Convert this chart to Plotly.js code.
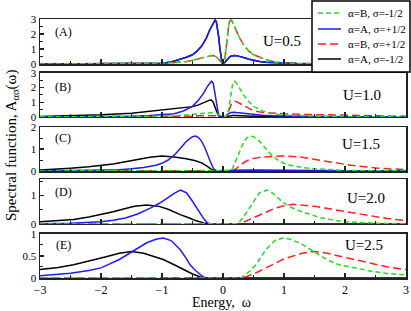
<!DOCTYPE html>
<html><head><meta charset="utf-8">
<script src="https://cdn.plot.ly/plotly-3.0.1.min.js"></script>
<style>html,body{margin:0;padding:0;background:#fff}#chart{width:411px;height:311px}</style>
</head><body><div id="chart"></div>
<script>
// ---------- legend names ----------
const seriesNames = ["α=A, σ=-1/2", "α=B, σ=+1/2", "α=A, σ=+1/2", "α=B, σ=-1/2"];
const legendOrder = ["green", "blue", "red", "black"];
const legendTexts = ["α=B, σ=-1/2", "α=A, σ=+1/2", "α=B, σ=+1/2", "α=A, σ=-1/2"];
const uLabels = ["U=0.5", "U=1.0", "U=1.5", "U=2.0", "U=2.5"];
const panelLabels = ["(A)", "(B)", "(C)", "(D)", "(E)"];

// ---------- Panel A (U=0.5) ----------
const A_x = [-3,-2.5,-2,-1.5,-1.2,-1,-0.85,-0.7,-0.6,-0.5,-0.43,-0.35,-0.27,-0.22,-0.18,-0.15,-0.13,-0.11,-0.09,-0.07,-0.05,-0.03,-0.015,0,0.015,0.03,0.05,0.07,0.09,0.11,0.13,0.15,0.18,0.22,0.27,0.35,0.43,0.5,0.6,0.7,0.85,1,1.2,1.5,2,2.5,3];
const A_blue  = [0.004,0.006,0.01,0.02,0.035,0.06,0.14,0.3,0.45,0.62,0.84,1.2,1.75,2.25,2.6,2.85,2.93,2.85,2.45,1.8,1.0,0.35,0.08,0,0.03,0.1,0.2,0.3,0.4,0.48,0.52,0.55,0.57,0.56,0.52,0.42,0.32,0.25,0.17,0.12,0.08,0.055,0.035,0.02,0.01,0.006,0.004];
const A_black = [0.004,0.006,0.01,0.02,0.035,0.06,0.14,0.3,0.45,0.62,0.84,1.2,1.75,2.25,2.6,2.85,2.93,2.85,2.45,1.8,1.0,0.35,0.08,0,0.03,0.1,0.2,0.3,0.4,0.48,0.52,0.55,0.57,0.56,0.52,0.42,0.32,0.25,0.17,0.12,0.08,0.055,0.035,0.02,0.01,0.006,0.004];
const A_green = [0.004,0.006,0.01,0.02,0.035,0.055,0.08,0.12,0.17,0.25,0.32,0.42,0.52,0.56,0.57,0.55,0.52,0.48,0.4,0.3,0.2,0.1,0.03,0,0.08,0.35,1.0,1.8,2.45,2.85,2.93,2.85,2.6,2.25,1.75,1.2,0.84,0.62,0.45,0.3,0.14,0.06,0.035,0.02,0.01,0.006,0.004];
const A_red   = [0.004,0.006,0.01,0.02,0.035,0.055,0.08,0.12,0.17,0.25,0.32,0.42,0.52,0.56,0.57,0.55,0.52,0.48,0.4,0.3,0.2,0.1,0.03,0,0.08,0.35,1.0,1.8,2.45,2.85,2.93,2.85,2.6,2.25,1.75,1.2,0.84,0.62,0.45,0.3,0.14,0.06,0.035,0.02,0.01,0.006,0.004];

// ---------- Panel B (U=1.0) ----------
const B_x = [-3,-2.5,-2,-1.5,-1.2,-1,-0.8,-0.65,-0.5,-0.4,-0.32,-0.26,-0.22,-0.19,-0.16,-0.13,-0.1,-0.08,-0.06,-0.04,-0.02,0,0.02,0.04,0.06,0.08,0.1,0.13,0.16,0.19,0.22,0.26,0.32,0.4,0.5,0.65,0.8,1,1.2,1.5,2,2.5,3];
const B_blue  = [0.005,0.01,0.02,0.05,0.09,0.13,0.22,0.4,0.72,1.15,1.6,2.05,2.3,2.43,2.3,1.6,0.7,0.3,0.08,0.02,0.005,0,0.005,0.03,0.1,0.18,0.24,0.3,0.32,0.32,0.3,0.28,0.25,0.21,0.16,0.11,0.07,0.05,0.03,0.02,0.01,0.005,0.003];
const B_green = [0.003,0.005,0.01,0.02,0.03,0.05,0.07,0.11,0.16,0.21,0.25,0.28,0.3,0.32,0.32,0.3,0.24,0.18,0.1,0.03,0.005,0,0.005,0.02,0.08,0.3,0.7,1.6,2.3,2.43,2.3,2.05,1.6,1.15,0.72,0.4,0.22,0.13,0.09,0.05,0.02,0.01,0.005];
const B_black = [0.03,0.07,0.14,0.25,0.38,0.48,0.55,0.6,0.7,0.82,0.97,1.08,1.14,1.15,1.0,0.65,0.3,0.13,0.04,0.01,0.002,0,0.002,0.02,0.05,0.07,0.09,0.1,0.1,0.1,0.1,0.09,0.08,0.07,0.05,0.04,0.03,0.02,0.015,0.01,0.005,0.003,0.002];
const B_red   = [0.002,0.003,0.005,0.01,0.015,0.02,0.03,0.04,0.05,0.07,0.08,0.09,0.1,0.1,0.1,0.1,0.09,0.07,0.05,0.02,0.002,0,0.002,0.02,0.08,0.2,0.45,0.8,1.0,1.07,1.04,0.95,0.8,0.6,0.42,0.3,0.25,0.21,0.18,0.15,0.11,0.07,0.04];

// ---------- Panel C (U=1.5) ----------
const C_blue_x  = [-3,-2.5,-2,-1.7,-1.5,-1.3,-1.1,-1,-0.9,-0.8,-0.7,-0.6,-0.5,-0.45,-0.4,-0.35,-0.3,-0.27,-0.2,-0.15,-0.1,0,0.1,0.2,0.3,0.5,0.8,1.2,2,3];
const C_blue_y  = [0.005,0.015,0.03,0.06,0.1,0.16,0.26,0.35,0.5,0.72,1.02,1.35,1.56,1.59,1.52,1.35,1.08,0.86,0.38,0.08,0.01,0.01,0.02,0.04,0.05,0.05,0.04,0.02,0.01,0.005];
const C_green_x = [-3,-2,-1.2,-0.8,-0.5,-0.3,-0.2,-0.1,0,0.1,0.15,0.2,0.27,0.3,0.35,0.4,0.45,0.5,0.6,0.7,0.8,0.9,1,1.1,1.3,1.5,1.7,2,2.5,3];
const C_green_y = [0.005,0.01,0.02,0.04,0.05,0.05,0.04,0.02,0.01,0.01,0.08,0.38,0.86,1.08,1.35,1.52,1.59,1.56,1.35,1.02,0.72,0.5,0.35,0.26,0.16,0.1,0.06,0.03,0.015,0.005];
const C_black_x = [-3,-2.8,-2.5,-2.2,-2,-1.8,-1.6,-1.4,-1.2,-1,-0.8,-0.6,-0.45,-0.35,-0.3,-0.25,-0.2,-0.15,-0.1,0,0.2,0.5,1,2,3];
const C_black_y = [0.05,0.07,0.13,0.19,0.24,0.32,0.42,0.54,0.63,0.68,0.64,0.56,0.47,0.37,0.3,0.2,0.1,0.03,0.005,0,0.02,0.02,0.01,0.005,0.002];
const C_red_x   = [-3,-2,-1,-0.5,-0.2,0,0.1,0.15,0.2,0.28,0.35,0.44,0.6,0.8,1,1.26,1.5,1.8,2.1,2.5,3];
const C_red_y   = [0.002,0.005,0.01,0.02,0.02,0,0,0.02,0.08,0.26,0.4,0.53,0.62,0.66,0.68,0.64,0.53,0.38,0.26,0.14,0.06];

// ---------- Panel D (U=2.0) ----------
const D_blue_x  = [-3,-2.5,-2,-1.8,-1.6,-1.4,-1.2,-1.05,-0.92,-0.8,-0.7,-0.6,-0.5,-0.4,-0.32,-0.26,-0.22,-0.15,0,0.5,1,3];
const D_blue_y  = [0.01,0.03,0.08,0.13,0.21,0.35,0.55,0.72,0.9,1.08,1.19,1.1,0.8,0.45,0.2,0.05,0.01,0,0,0.005,0.005,0];
const D_green_x = [-3,-1,-0.5,0,0.15,0.22,0.26,0.32,0.4,0.5,0.6,0.72,0.82,0.92,1.05,1.2,1.37,1.6,1.8,2,2.5,3];
const D_green_y = [0,0.005,0.005,0,0,0.01,0.05,0.2,0.45,0.8,1.1,1.19,1.08,0.88,0.66,0.5,0.37,0.22,0.14,0.08,0.03,0.01];
const D_black_x = [-3,-2.7,-2.45,-2.2,-2,-1.8,-1.63,-1.45,-1.25,-1.05,-0.9,-0.81,-0.7,-0.54,-0.45,-0.32,-0.25,-0.15,0,3];
const D_black_y = [0.08,0.12,0.16,0.25,0.33,0.43,0.53,0.62,0.67,0.62,0.52,0.43,0.33,0.2,0.12,0.04,0.005,0,0,0];
const D_red_x   = [-3,0,0.15,0.25,0.32,0.39,0.5,0.6,0.72,0.85,1,1.15,1.3,1.5,1.7,1.92,2.2,2.46,2.7,3];
const D_red_y   = [0,0,0,0.005,0.05,0.12,0.22,0.32,0.43,0.55,0.64,0.69,0.67,0.62,0.55,0.47,0.36,0.26,0.19,0.12];

// ---------- Panel E (U=2.5) ----------
const E_blue_x  = [-3,-2.7,-2.5,-2.2,-2,-1.7,-1.52,-1.35,-1.25,-1.1,-0.98,-0.85,-0.7,-0.6,-0.54,-0.45,-0.38,-0.32,-0.28,0,3];
const E_blue_y  = [0.05,0.08,0.11,0.17,0.23,0.42,0.57,0.72,0.8,0.88,0.91,0.85,0.64,0.44,0.3,0.17,0.08,0.02,0,0,0];
const E_green_x = [-3,0,0.28,0.32,0.38,0.45,0.54,0.6,0.7,0.85,0.98,1.1,1.25,1.35,1.52,1.7,1.9,2.2,2.45,2.7,3];
const E_green_y = [0,0,0,0.02,0.08,0.17,0.3,0.44,0.64,0.85,0.91,0.88,0.8,0.72,0.57,0.42,0.3,0.21,0.15,0.1,0.07];
const E_black_x = [-3,-2.7,-2.45,-2.2,-1.9,-1.7,-1.5,-1.3,-1.15,-0.98,-0.8,-0.65,-0.5,-0.38,-0.3,-0.25,0,3];
const E_black_y = [0.19,0.24,0.3,0.38,0.49,0.56,0.6,0.56,0.5,0.42,0.3,0.19,0.09,0.03,0.005,0,0,0];
const E_red_x   = [-3,0,0.25,0.3,0.38,0.5,0.65,0.8,0.98,1.15,1.3,1.45,1.65,1.9,2.2,2.45,2.7,3];
const E_red_y   = [0,0,0,0.005,0.03,0.09,0.19,0.3,0.42,0.5,0.56,0.6,0.58,0.5,0.4,0.32,0.25,0.19];

// y-axis settings per panel
const yRanges = [[0,3],[0,3],[0,2],[0,1.58],[0,1]];
const yDticks = [1,1,1,1,0.5];
const yMinor  = [0.5,0.5,0.5,0.5,0.25];

// ---------- build ----------
const colors = {black:'#000000', red:'#ff2020', blue:'#1c1cff', green:'#22dd22'};
const dashes = {black:'solid', red:'8px,4px', blue:'solid', green:'5px,3px'};
const panelData = [
  {black:[A_x,A_black], red:[A_x,A_red], blue:[A_x,A_blue], green:[A_x,A_green]},
  {black:[B_x,B_black], red:[B_x,B_red], blue:[B_x,B_blue], green:[B_x,B_green]},
  {black:[C_black_x,C_black_y], red:[C_red_x,C_red_y], blue:[C_blue_x,C_blue_y], green:[C_green_x,C_green_y]},
  {black:[D_black_x,D_black_y], red:[D_red_x,D_red_y], blue:[D_blue_x,D_blue_y], green:[D_green_x,D_green_y]},
  {black:[E_black_x,E_black_y], red:[E_red_x,E_red_y], blue:[E_blue_x,E_blue_y], green:[E_green_x,E_green_y]}
];
const order = ['black','red','blue','green'];
const traces = [];
panelData.forEach((p, i) => {
  order.forEach((k, j) => {
    traces.push({
      x: p[k][0], y: p[k][1], type: 'scatter', mode: 'lines',
      name: seriesNames[j], showlegend: false,
      xaxis: i === 0 ? 'x' : 'x' + (i + 1), yaxis: i === 0 ? 'y' : 'y' + (i + 1),
      line: {color: colors[k], width: 1.5, dash: dashes[k]}
    });
  });
});

const serif = 'Liberation Serif, Times New Roman, serif';
// plot area in pixels: x 40..406, y 19..278
const PX = px => (px - 40) / 366;
const PY = py => (278 - py) / 259;
const domains = [[0.826,1.0],[0.622,0.792],[0.413,0.583],[0.2085,0.382],[0,0.170]];
const layout = {
  width: 411, height: 311, autosize: false,
  margin: {l: 40, r: 5, t: 19, b: 33, autoexpand: false},
  paper_bgcolor: '#fff', plot_bgcolor: '#fff',
  font: {family: serif, size: 13, color: '#000'},
  showlegend: false,
  annotations: [], shapes: []
};
for (let i = 0; i < 5; i++) {
  const xs = i === 0 ? 'xaxis' : 'xaxis' + (i + 1);
  const ys = i === 0 ? 'yaxis' : 'yaxis' + (i + 1);
  const yid = i === 0 ? 'y' : 'y' + (i + 1);
  const xid = i === 0 ? 'x' : 'x' + (i + 1);
  layout[xs] = {
    domain: [0, 1], anchor: yid, range: [-3, 3], showgrid: false, zeroline: false,
    showline: true, mirror: true, linecolor: '#222', linewidth: 1.5,
    ticks: 'inside', ticklen: 5, tickwidth: 1.2, tickcolor: '#222', dtick: 1, tick0: 0,
    minor: {ticks: 'inside', ticklen: 3, dtick: 0.5, tickwidth: 1, tickcolor: '#222'},
    showticklabels: i === 4, tickfont: {family: serif, size: 12, color: '#000'}
  };
  layout[ys] = {
    domain: domains[i], anchor: xid, range: yRanges[i], showgrid: false, zeroline: false,
    showline: true, mirror: true, linecolor: '#222', linewidth: 1.5,
    ticks: 'inside', ticklen: 4, tickwidth: 1.2, tickcolor: '#222', dtick: yDticks[i], tick0: 0,
    minor: {ticks: 'inside', ticklen: 2.5, dtick: yMinor[i], tickwidth: 1, tickcolor: '#222'},
    tickfont: {family: serif, size: 11, color: '#000'}
  };
}
const uPos = [[0.97,0.51],[2.28,0.5],[2.26,0.61],[2.34,0.58],[2.31,0.75]];
const lPos = [0.71,0.68,0.75,0.72,0.75];
for (let i = 0; i < 5; i++) {
  const xid = i === 0 ? 'x' : 'x' + (i + 1);
  const yid = i === 0 ? 'y' : 'y' + (i + 1);
  layout.annotations.push({text: uLabels[i], xref: xid, yref: yid + ' domain', x: uPos[i][0], y: uPos[i][1],
    xanchor: 'center', yanchor: 'middle',
    showarrow: false, font: {family: serif, size: 15, color: '#000'}});
  layout.annotations.push({text: panelLabels[i], xref: xid, yref: yid + ' domain', x: -2.62, y: lPos[i],
    xanchor: 'center', yanchor: 'middle',
    showarrow: false, font: {family: serif, size: 12, color: '#000'}});
}
layout.annotations.push({text: 'Spectral function, A<sub>ασ</sub>(ω)', xref: 'paper', yref: 'paper',
  x: PX(12), y: PY(146), xanchor: 'center', yanchor: 'middle', textangle: -90, showarrow: false,
  font: {family: serif, size: 15, color: '#000'}});
layout.annotations.push({text: 'Energy,\u00a0 ω', xref: 'paper', yref: 'paper',
  x: PX(221), y: PY(302), xanchor: 'center', yanchor: 'middle', showarrow: false,
  font: {family: serif, size: 14, color: '#000'}});

// custom legend box (drawn over panel A like the reference)
layout.shapes.push({type: 'rect', xref: 'paper', yref: 'paper', x0: PX(312), x1: PX(410), y0: PY(72), y1: PY(1),
  fillcolor: '#fff', line: {color: '#000', width: 1.5}, layer: 'above'});
const rowY = [13, 29, 44, 59];
legendOrder.forEach((k, r) => {
  layout.shapes.push({type: 'line', xref: 'paper', yref: 'paper', x0: PX(318), x1: PX(341), y0: PY(rowY[r]), y1: PY(rowY[r]),
    line: {color: colors[k], width: 1.5, dash: dashes[k]}, layer: 'above'});
  layout.annotations.push({text: legendTexts[r], xref: 'paper', yref: 'paper', x: PX(346), y: PY(rowY[r]),
    xanchor: 'left', yanchor: 'middle', showarrow: false, font: {family: serif, size: 11, color: '#000'}});
});

Plotly.newPlot('chart', traces, layout, {staticPlot: true, displayModeBar: false});
</script></body></html>
